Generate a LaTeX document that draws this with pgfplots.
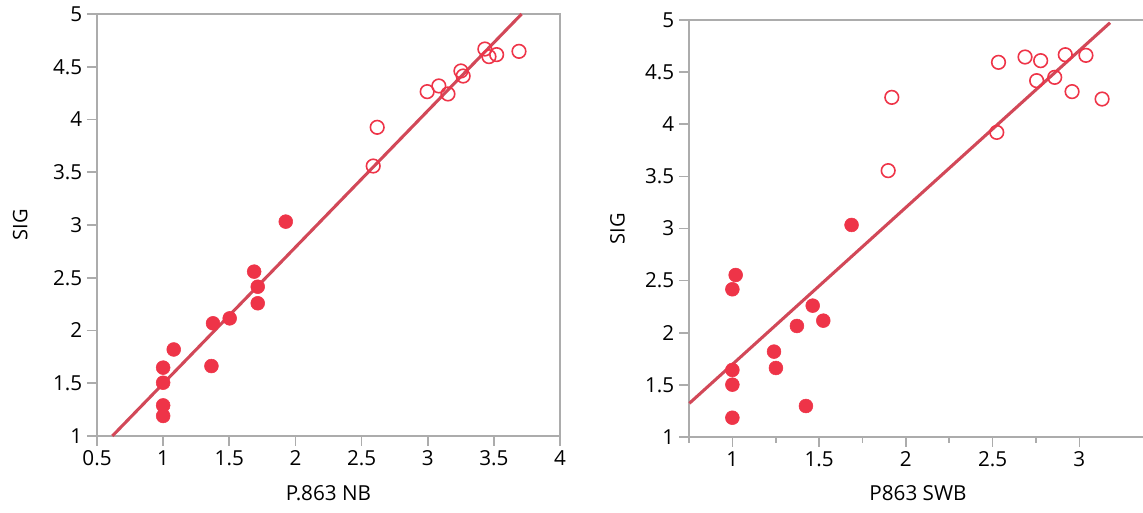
\documentclass[border=0pt]{standalone}
\usepackage{pgfplots}
\pgfplotsset{compat=1.18}
\usepackage{fontspec}
\setmainfont{Open Sans}
\definecolor{mk}{RGB}{238,52,72}
\definecolor{ln}{RGB}{210,72,88}
\definecolor{ax}{RGB}{172,172,172}
\newcommand{\fs}{\fontsize{15.5}{18}\selectfont}
\newcommand{\fy}{\fontsize{15}{18}\selectfont}
\pgfplotsset{mystyle/.style={
  scale only axis,
  axis line style={ax, line width=1.2pt},
  tick style={ax, line width=1.2pt},
  major tick length=7.5pt, minor tick length=4.5pt,
  tick align=outside,
  xtick pos=left, ytick pos=left,
  ymin=1, ymax=5, ytick={1,1.5,2,2.5,3,3.5,4,4.5,5},
  /pgf/number format/assume math mode=true,
  /pgf/number format/fixed,
  ylabel={SIG},
  tick label style={font=\fs, text=black},
  xlabel style={font=\fs, text=black},
  ylabel style={font=\fy, text=black},
  clip=false,
}}
\pgfplotsset{
  filled/.style={only marks, mark=*, mark size=5.2pt, mark options={draw=mk, fill=mk}},
  open/.style={only marks, mark=o, mark size=5.1pt, mark options={draw=mk, line width=1.2pt, fill=none}},
  fit/.style={ln, line width=2.3pt, no marks},
}
\begin{document}
\begin{tikzpicture}
\useasboundingbox (0,0) rectangle (857.25pt,384.75pt);
\clip (0,0) rectangle (857.25pt,384.75pt);
\begin{axis}[mystyle,
  at={(72.75pt,57.75pt)}, anchor=south west,
  width=347.25pt, height=316.5pt,
  xmin=0.5, xmax=4, xtick={0.5,1,1.5,2,2.5,3,3.5,4},
  xlabel={P.863 NB},
  xlabel style={at={(axis description cs:0.5,-0.135)}, anchor=center},
  ylabel style={at={(axis description cs:-0.166,0.5)}, anchor=center},
]
\addplot[filled] coordinates {
(1.0,1.19) (1.0,1.29) (1.0,1.505) (1.0,1.648) (1.08,1.82) (1.365,1.663)
(1.377,2.068) (1.503,2.115) (1.688,2.558) (1.715,2.415) (1.715,2.258) (1.927,3.032)};
\addplot[open] coordinates {
(2.588,3.559) (2.618,3.926) (2.996,4.264) (3.084,4.318) (3.153,4.242) (3.251,4.46)
(3.268,4.412) (3.432,4.668) (3.463,4.596) (3.521,4.615) (3.69,4.646)};
\addplot[fit] coordinates {(0.616,1) (3.71,5)};
\end{axis}
\begin{axis}[mystyle,
  at={(516.75pt,57pt)}, anchor=south west,
  width=343.5pt, height=312.75pt,
  xmin=0.75, xmax=3.39, xtick={1,1.5,2,2.5,3},
  minor xtick={0.75,1.25,1.75,2.25,2.75},
  xlabel={P863 SWB},
  xlabel style={at={(axis description cs:0.5,-0.134)}, anchor=center},
  ylabel style={at={(axis description cs:-0.156,0.5)}, anchor=center},
]
\addplot[filled] coordinates {
(1.0,1.185) (1.0,1.502) (1.0,1.643) (1.0,2.417) (1.019,2.554) (1.24,1.819)
(1.251,1.662) (1.372,2.065) (1.424,1.297) (1.463,2.26) (1.524,2.116) (1.687,3.034)};
\addplot[open] coordinates {
(1.898,3.555) (1.919,4.258) (2.524,3.922) (2.534,4.594) (2.687,4.645) (2.754,4.418)
(2.777,4.61) (2.858,4.45) (2.919,4.667) (2.958,4.313) (3.038,4.661) (3.131,4.242)};
\addplot[fit] coordinates {(0.752,1.323) (3.177,4.974)};
\end{axis}
\end{tikzpicture}
\end{document}
